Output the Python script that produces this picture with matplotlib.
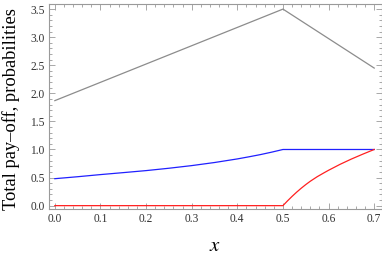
import matplotlib
matplotlib.use("Agg")
import matplotlib.pyplot as plt
from matplotlib.ticker import MultipleLocator

# values
x_pay = [0.0, 0.5, 0.7]
pay = [1.87, 3.5, 2.45]

x_blue = [0.0, 0.05, 0.1, 0.15, 0.2, 0.25, 0.3, 0.35, 0.4, 0.425, 0.45, 0.475, 0.5, 0.7]
blue = [0.48, 0.515, 0.553, 0.588, 0.624, 0.666, 0.713, 0.768, 0.832, 0.869, 0.908, 0.952, 1.0, 1.0]

x_red = [0.0, 0.5, 0.51, 0.52, 0.53, 0.54, 0.55, 0.56, 0.575, 0.59, 0.6,
         0.625, 0.65, 0.675, 0.7]
red = [0.0, 0.0, 0.085, 0.165, 0.24, 0.31, 0.375, 0.435, 0.515, 0.585, 0.63,
       0.735, 0.83, 0.917, 1.0]

plt.rcParams['font.family'] = ['Liberation Serif', 'DejaVu Serif']
plt.rcParams['mathtext.fontset'] = 'stix'

fig = plt.figure(figsize=(3.82, 2.58), dpi=100)
ax = fig.add_axes([0.128, 0.189, 0.8707, 0.794])

ax.plot(x_pay, pay, color='#8c8c8c', lw=0.9)
ax.plot(x_blue, blue, color='#2020ff', lw=0.9)
ax.plot(x_red, red, color='#ff2020', lw=0.9)

ax.set_xlim(-0.013, 0.716)
ax.set_ylim(-0.064, 3.584)
ax.xaxis.set_major_locator(MultipleLocator(0.1))
ax.xaxis.set_minor_locator(MultipleLocator(0.02))
ax.yaxis.set_major_locator(MultipleLocator(0.5))
ax.yaxis.set_minor_locator(MultipleLocator(0.1))
ax.xaxis.set_major_formatter(plt.FormatStrFormatter('%.1f'))
ax.yaxis.set_major_formatter(plt.FormatStrFormatter('%.1f'))

for s in ax.spines.values():
    s.set_color('#9a9a9a')
    s.set_linewidth(0.8)
ax.tick_params(which='both', direction='in', top=True, right=True,
               color='#9a9a9a', width=0.6, labelsize=8.3, labelcolor='#333333')
ax.tick_params(which='major', length=4, pad=3)
ax.tick_params(which='minor', length=2)

ax.set_ylabel('Total pay\u2013off, probabilities', fontsize=13.3)
ax.yaxis.set_label_coords(-0.086, 0.49)
ax.set_xlabel('$x$', fontsize=15, labelpad=8)

fig.savefig('out.png', dpi=100)
